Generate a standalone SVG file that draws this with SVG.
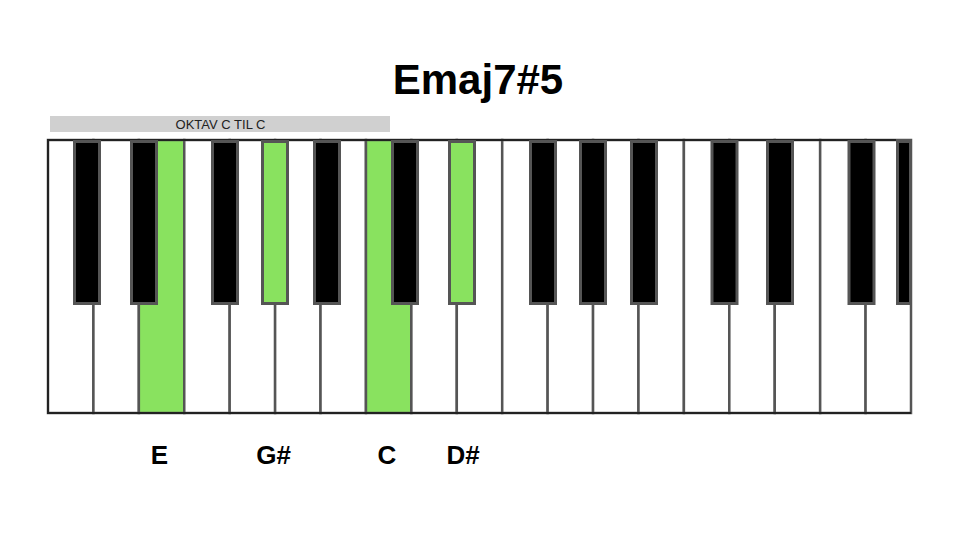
<svg xmlns="http://www.w3.org/2000/svg" width="960" height="540" viewBox="0 0 960 540">
<style>
.w{fill:#ffffff;stroke:#555555;stroke-width:2.5}
.b{fill:#000000;stroke:#555555;stroke-width:3}
.g{fill:#89e25f;stroke:#555555;stroke-width:2.5}
.gb{fill:#89e25f;stroke:#555555;stroke-width:3}
.t{font-family:"Liberation Sans",Arial,sans-serif;font-weight:bold;fill:#000;text-anchor:middle}
</style>
<rect width="960" height="540" fill="#ffffff"/>
<text id="title" class="t" x="478" y="94" font-size="42">Emaj7#5</text>
<g id="octave-bar">
<rect x="50" y="116" width="340" height="16" fill="#d0d0d0"/>
<text x="220.5" y="128.5" font-family="Liberation Sans,Arial,sans-serif" font-size="13" fill="#222" text-anchor="middle">OKTAV C TIL C</text>
</g>
<g id="white-keys">
<rect id="w0" class="w" x="48" y="140" width="45.42" height="273"/>
<rect id="w1" class="w" x="93.42" y="140" width="45.42" height="273"/>
<rect id="w2" class="g" x="138.84" y="140" width="45.42" height="273"/>
<rect id="w3" class="w" x="184.26" y="140" width="45.42" height="273"/>
<rect id="w4" class="w" x="229.68" y="140" width="45.42" height="273"/>
<rect id="w5" class="w" x="275.11" y="140" width="45.42" height="273"/>
<rect id="w6" class="w" x="320.53" y="140" width="45.42" height="273"/>
<rect id="w7" class="g" x="365.95" y="140" width="45.42" height="273"/>
<rect id="w8" class="w" x="411.37" y="140" width="45.42" height="273"/>
<rect id="w9" class="w" x="456.79" y="140" width="45.42" height="273"/>
<rect id="w10" class="w" x="502.21" y="140" width="45.42" height="273"/>
<rect id="w11" class="w" x="547.63" y="140" width="45.42" height="273"/>
<rect id="w12" class="w" x="593.05" y="140" width="45.42" height="273"/>
<rect id="w13" class="w" x="638.47" y="140" width="45.42" height="273"/>
<rect id="w14" class="w" x="683.89" y="140" width="45.42" height="273"/>
<rect id="w15" class="w" x="729.32" y="140" width="45.42" height="273"/>
<rect id="w16" class="w" x="774.74" y="140" width="45.42" height="273"/>
<rect id="w17" class="w" x="820.16" y="140" width="45.42" height="273"/>
<rect id="w18" class="w" x="865.58" y="140" width="45.42" height="273"/>
</g>
<g id="frame">
<polyline points="896,140 48,140 48,413 911,413" fill="none" stroke="#222" stroke-width="2"/>
</g>
<g id="black-keys">
<rect id="b0" class="b" x="74.5" y="141.5" width="25" height="162"/>
<rect id="b1" class="b" x="131.5" y="141.5" width="25" height="162"/>
<rect id="b2" class="b" x="212.5" y="141.5" width="25" height="162"/>
<rect id="b3" class="gb" x="262.5" y="141.5" width="25" height="162"/>
<rect id="b4" class="b" x="314.5" y="141.5" width="25" height="162"/>
<rect id="b5" class="b" x="392.5" y="141.5" width="25" height="162"/>
<rect id="b6" class="gb" x="449.5" y="141.5" width="25" height="162"/>
<rect id="b7" class="b" x="530.5" y="141.5" width="25" height="162"/>
<rect id="b8" class="b" x="580.5" y="141.5" width="25" height="162"/>
<rect id="b9" class="b" x="631.5" y="141.5" width="25" height="162"/>
<rect id="b10" class="b" x="712" y="141.5" width="25" height="162"/>
<rect id="b11" class="b" x="767.5" y="141.5" width="25" height="162"/>
<rect id="b12" class="b" x="849" y="141.5" width="25" height="162"/>
<rect id="b13" class="b" x="897.5" y="141.5" width="13" height="162"/>
</g>
<g id="labels">
<text class="t" x="159.5" y="464" font-size="26">E</text>
<text class="t" x="273.5" y="464" font-size="26">G#</text>
<text class="t" x="387" y="464" font-size="26">C</text>
<text class="t" x="463" y="464" font-size="26">D#</text>
</g>
</svg>
